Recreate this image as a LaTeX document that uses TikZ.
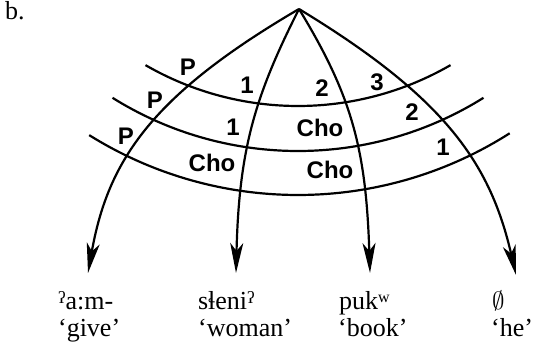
\documentclass[tikz,border=0pt]{standalone}
\usepackage{fontspec}
\setmainfont{Liberation Serif}
\newfontfamily\labfont{Liberation Sans}
\usetikzlibrary{arrows.meta}
\newcommand{\glot}{\raisebox{0.45ex}{\fontsize{17}{17}\selectfont ʔ}}
\newcommand{\labw}{\raisebox{0.55ex}{\fontsize{16}{16}\selectfont w}}

\begin{document}
\begin{tikzpicture}[x=1pt,y=1pt,
        line width=2.2pt,
        arr/.style={-{Stealth[length=30pt,width=13pt,inset=8pt]}},
        lab/.style={font=\labfont\bfseries\fontsize{24}{24}\selectfont, inner sep=0pt},
        word/.style={font=\fontsize{26}{29}\selectfont, anchor=base west, inner sep=0pt}]
        \useasboundingbox (0,0) rectangle (533,346);

        % === TITLE ===
        \node[word] (title) at (4,326) {b.};

        % === LAYERS ===
        \coordinate (c) at (298,545);
        \draw ([shift={(240:305)}]c) arc (240:300:305);
        \draw ([shift={(238:350)}]c) arc (238:302:350);
        \draw ([shift={(238:394)}]c) arc (238:302.5:394);

        % === BRANCHES ===
        \coordinate (root) at (299,337);
        \coordinate (tip1) at (88,73);
        \coordinate (tip2) at (236,73);
        \coordinate (tip3) at (370,73);
        \coordinate (tip4) at (516,71);
        \draw[arr] (root) .. controls (152,251) and (108,186) .. (tip1);
        \draw[arr] (root) .. controls (255,250) and (239,197) .. (tip2);
        \draw[arr] (root) .. controls (352,250) and (366,197) .. (tip3);
        \draw[arr] (root) .. controls (444,249) and (490,184) .. (tip4);

        % === CELL LABELS ===
        \node[lab] (p1) at (188,279) {P};
        \node[lab] (p2) at (155,246) {P};
        \node[lab] (p3) at (126,210) {P};
        \node[lab] (a1) at (247,261) {1};
        \node[lab] (a2) at (322,258) {2};
        \node[lab] (a3) at (377,264) {3};
        \node[lab] (b1) at (233,219) {1};
        \node[lab] (b2) at (320,218) {Cho};
        \node[lab] (b3) at (412,234) {2};
        \node[lab] (d1) at (212,183) {Cho};
        \node[lab] (d2) at (330,176) {Cho};
        \node[lab] (d3) at (443,199) {1};

        % === WORDS ===
        \node[word] (w1) at (57,36.7) {\glot a:m-};
        \node[word] (g1) at (57,10) {‘give’};
        \node[word] (w2) at (197,36.7) {sɬeni\glot};
        \node[word] (g2) at (197,10) {‘woman’};
        \node[word] (w3) at (338,36.7) {puk\labw};
        \node[word] (g3) at (337,10) {‘book’};
        \node[word] (w4) at (491,36.7) {$\emptyset$};
        \node[word] (g4) at (490,10) {‘he’};

    \end{tikzpicture}
\end{document}
